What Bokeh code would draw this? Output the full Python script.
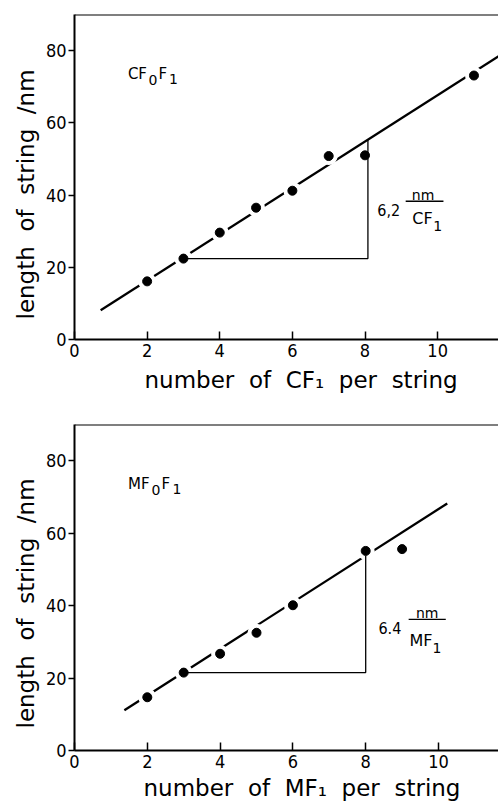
import numpy as np
from bokeh.plotting import figure
from bokeh.layouts import column
from bokeh.models import FixedTicker, Span, Range1d, Title
from bokeh.embed import file_html
from bokeh.resources import INLINE
from bokeh.core.properties import value

# ---- data: upper panel (CF0F1) ----
cf_n = [2, 3, 4, 5, 6, 7, 8, 11]
cf_len = [16.1, 22.4, 29.6, 36.5, 41.2, 50.8, 51.0, 73.1]
cf_fit_x = [0.72, 11.75]
cf_fit_y = [8.1, 78.9]
cf_slope = "6,2"
cf_unit = ["CF", "1"]            # CF with subscript 1
cf_name = ["CF", "0", "F", "1"]  # CF0F1 (0 and 1 as subscripts)
cf_xlabel = "number  of  CF₁  per  string"

# ---- data: lower panel (MF0F1) ----
mf_n = [2, 3, 4, 5, 6, 8, 9]
mf_len = [14.7, 21.5, 26.7, 32.5, 40.1, 55.1, 55.6]
mf_fit_x = [1.37, 10.24]
mf_fit_y = [11.1, 68.2]
mf_slope = "6.4"
mf_unit = ["MF", "1"]
mf_name = ["MF", "0", "F", "1"]
mf_xlabel = "number  of  MF₁  per  string"

x_ticks = [0, 2, 4, 6, 8, 10]
y_ticks = [0, 20, 40, 60, 80]
ylabel = "length  of  string  /nm"

FONT = "DejaVu Sans"
TICKFONT = "DejaVu Sans Condensed, DejaVu Sans"


def spaced(s):
    # keep the wide word spacing of the original lettering
    return s.replace("  ", "\u00a0 ")


def txt(p, x, y, s, size, align="left", xoff=0, font=FONT):
    p.text([x], [y], text=[s], text_font=value(font), text_font_size=size,
           text_align=align, text_baseline="alphabetic", text_color="black",
           x_offset=xoff)


def panel(n, length, fit_x, fit_y, slope, unit, name, xlabel,
          height, top, bottom, left, x_end, tri_i0, tri_x, ann, name_off,
          xt_standoff, yt_offset, xt_offset):
    p = figure(width=498, height=height, output_backend="svg",
               toolbar_location=None, x_range=Range1d(0, x_end),
               y_range=Range1d(0, 90), min_border_left=left,
               min_border_right=0, min_border_top=top,
               min_border_bottom=bottom)
    p.background_fill_color = "white"
    p.border_fill_color = "white"
    p.outline_line_color = None
    p.grid.visible = False

    p.xaxis.ticker = FixedTicker(ticks=x_ticks)
    p.yaxis.ticker = FixedTicker(ticks=y_ticks)
    p.xaxis.major_tick_in = 8
    p.xaxis.major_tick_out = 0
    p.yaxis.major_tick_in = 0
    p.yaxis.major_tick_out = 6
    p.axis.minor_tick_line_color = None
    p.axis.axis_line_width = 2
    p.axis.major_tick_line_width = 1.5
    p.axis.major_label_text_font = TICKFONT
    p.axis.major_label_text_font_size = "18px"
    p.axis.major_label_text_color = "black"
    p.xaxis.major_label_standoff = 4
    p.yaxis.major_label_standoff = 2

    # axis titles (slightly off-centre, as in the original)
    p.add_layout(Title(text=spaced(ylabel), align="left", offset=yt_offset,
                       standoff=8, text_font=FONT, text_font_size="23px",
                       text_font_style="normal", text_color="black"), "left")
    p.add_layout(Title(text=spaced(xlabel), align="left", offset=xt_offset,
                       standoff=xt_standoff, text_font=FONT,
                       text_font_size="23px", text_font_style="normal",
                       text_color="black"), "below")

    p.add_layout(Span(location=90, dimension="width", line_color="black",
                      line_width=2))

    # fitted line, broken around the points by white halos
    p.line(fit_x, fit_y, line_color="black", line_width=2.3)
    p.scatter(n, length, size=18, fill_color="white", line_color=None)

    # slope triangle
    x0, y0 = n[tri_i0], length[tri_i0]
    ytop = float(np.interp(tri_x, fit_x, fit_y))
    p.line([x0, tri_x, tri_x], [y0, y0, ytop], line_color="black",
           line_width=1.3)

    p.scatter(n, length, size=9, fill_color="black", line_color="black")

    # slope annotation:  value  nm / unit
    txt(p, ann["val"][0], ann["val"][1], slope, "16px", font=TICKFONT)
    txt(p, ann["nm"][0], ann["nm"][1], "nm", "14px", align="center")
    p.segment([ann["bar"][0]], [ann["bar"][2]], [ann["bar"][1]], [ann["bar"][2]],
              line_color="black", line_width=1.4)
    txt(p, ann["unit"][0], ann["unit"][1], unit[0], "16px")
    txt(p, ann["unit"][0], ann["unit"][1] - 2.2, unit[1], "14px",
        xoff=ann["unit_off"])

    # compound name with subscripts
    nx, ny = 1.47, 73.6
    txt(p, nx, ny, name[0], "15px")
    txt(p, nx, ny - 1.6, name[1], "14px", xoff=name_off[0])
    txt(p, nx, ny, name[2], "15px", xoff=name_off[1])
    txt(p, nx, ny - 1.4, name[3], "14px", xoff=name_off[2])
    return p


ann1 = dict(val=(8.34, 35.8), nm=(9.60, 39.9), bar=(9.12, 10.16, 38.3),
            unit=(9.30, 33.6), unit_off=21)
ann2 = dict(val=(8.35, 33.7), nm=(9.69, 37.9), bar=(9.18, 10.2, 36.2),
            unit=(9.2, 30.4), unit_off=23)

p1 = panel(cf_n, cf_len, cf_fit_x, cf_fit_y, cf_slope, cf_unit, cf_name,
           cf_xlabel, height=408, top=14, bottom=69, left=73, x_end=425 / 36.4,
           tri_i0=1, tri_x=8.08, ann=ann1, name_off=(20.5, 30.5, 41),
           xt_standoff=11, yt_offset=20, xt_offset=70)
p2 = panel(mf_n, mf_len, mf_fit_x, mf_fit_y, mf_slope, mf_unit, mf_name,
           mf_xlabel, height=398, top=16, bottom=56, left=74, x_end=424 / 36.4,
           tri_i0=1, tri_x=8.0, ann=ann2, name_off=(23.5, 33.5, 44.5),
           xt_standoff=4, yt_offset=22, xt_offset=69)

layout = column(p1, p2, spacing=0)
open("out.html", "w").write(file_html(layout, INLINE))
